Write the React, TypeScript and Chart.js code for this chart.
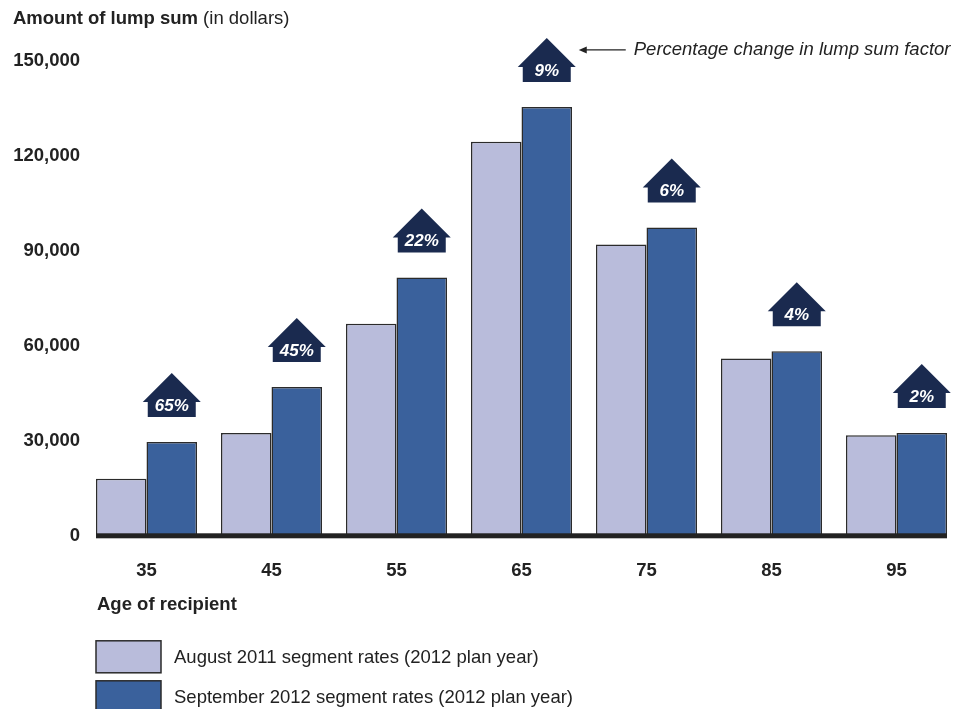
import React, { useEffect, useRef } from 'react';
import { Chart, registerables } from 'chart.js';

Chart.register(...registerables);

const ages = ['35', '45', '55', '65', '75', '85', '95'];
const aug2011 = [18000, 32500, 67000, 124500, 92000, 56000, 31800];
const sep2012 = [29600, 47000, 81600, 135500, 97400, 58300, 32500];
const pctChange = ['65%', '45%', '22%', '9%', '6%', '4%', '2%'];
const seriesNames = ['August 2011 segment rates (2012 plan year)', 'September 2012 segment rates (2012 plan year)'];
const yMax = 150000;
const yStep = 30000;

const FONT = '"Liberation Sans", Arial, sans-serif';
const AUG_COLOR = '#b9bcdb';
const SEP_COLOR = '#3a619c';
const BORDER = '#2b2b2b';
const NAVY = '#1a2a4f';

const overlay = {
  id: 'overlay',
  afterDraw(chart: any) {
    const ctx = chart.ctx;
    const y = chart.scales.y;
    const m0 = chart.getDatasetMeta(0);
    const m1 = chart.getDatasetMeta(1);
    const first = m0.data[0];
    const last = m1.data[m1.data.length - 1];
    const left = first.x - first.width / 2;
    const right = last.x + last.width / 2;
    const y0 = y.getPixelForValue(0);
    ctx.save();
    // title
    ctx.textBaseline = 'middle';
    ctx.textAlign = 'left';
    ctx.fillStyle = '#222';
    ctx.font = `bold 18.5px ${FONT}`;
    const t1 = 'Amount of lump sum';
    ctx.fillText(t1, 13, 19);
    const w1 = ctx.measureText(t1).width;
    ctx.font = `18.5px ${FONT}`;
    ctx.fillText(' (in dollars)', 13 + w1, 19);

    // zero line
    ctx.fillStyle = '#222';
    ctx.fillRect(left, y0 - 2.5, right - left, 5);

    // arrows
    m1.data.forEach((bar: any, i: number) => {
      const cx = bar.x;
      const yb = bar.y - 25;
      ctx.fillStyle = NAVY;
      ctx.beginPath();
      ctx.moveTo(cx - 24, yb);
      ctx.lineTo(cx - 24, yb - 15);
      ctx.lineTo(cx - 29, yb - 15);
      ctx.lineTo(cx, yb - 44);
      ctx.lineTo(cx + 29, yb - 15);
      ctx.lineTo(cx + 24, yb - 15);
      ctx.lineTo(cx + 24, yb);
      ctx.closePath();
      ctx.fill();
      ctx.fillStyle = '#fff';
      ctx.font = `italic bold 17px ${FONT}`;
      ctx.textAlign = 'center';
      ctx.fillText(pctChange[i], cx, yb - 11);
      if (i === 3) {
        const ay = yb - 32;
        const ax = cx + 32;
        ctx.strokeStyle = '#222';
        ctx.lineWidth = 1.2;
        ctx.beginPath();
        ctx.moveTo(ax + 4, ay);
        ctx.lineTo(ax + 47, ay);
        ctx.stroke();
        ctx.fillStyle = '#222';
        ctx.beginPath();
        ctx.moveTo(ax, ay);
        ctx.lineTo(ax + 8, ay - 3.5);
        ctx.lineTo(ax + 8, ay + 3.5);
        ctx.closePath();
        ctx.fill();
        ctx.textAlign = 'left';
        ctx.font = `italic 18.5px ${FONT}`;
        ctx.fillText('Percentage change in lump sum factor', ax + 55, ay);
      }
    });

    // x axis title
    ctx.textAlign = 'left';
    ctx.fillStyle = '#222';
    ctx.font = `bold 18.5px ${FONT}`;
    ctx.fillText('Age of recipient', left + 1, y0 + 69);

    // legend
    const colors = [AUG_COLOR, SEP_COLOR];
    seriesNames.forEach((name, i) => {
      const top = y0 + 105 + i * 40;
      ctx.fillStyle = colors[i];
      ctx.fillRect(left, top, 65, 32);
      ctx.strokeStyle = BORDER;
      ctx.lineWidth = 1.5;
      ctx.strokeRect(left, top, 65, 32);
      ctx.fillStyle = '#222';
      ctx.font = `18.5px ${FONT}`;
      ctx.fillText(name, left + 78, top + 17);
    });
    ctx.restore();
  },
};

export default function App() {
  const ref = useRef<HTMLCanvasElement>(null);
  useEffect(() => {
    if (!ref.current) return;
    const chart = new Chart(ref.current, {
      type: 'bar',
      data: {
        labels: ages,
        datasets: [
          { label: seriesNames[0], data: aug2011, backgroundColor: AUG_COLOR, borderColor: BORDER, borderWidth: 1.5 },
          { label: seriesNames[1], data: sep2012, backgroundColor: SEP_COLOR, borderColor: BORDER, borderWidth: 1.5 },
        ],
      },
      options: {
        responsive: false,
        animation: false,
        layout: { padding: { top: 61, right: 13, left: 0, bottom: 103 } },
        plugins: { legend: { display: false }, tooltip: { enabled: false }, title: { display: false } },
        datasets: { bar: { categoryPercentage: 0.808, barPercentage: 1 } },
        scales: {
          x: {
            grid: { display: false, drawTicks: false },
            border: { display: false },
            ticks: { padding: 24, color: '#222', font: { family: FONT, size: 18.5, weight: 'bold' } },
          },
          y: {
            min: 0,
            max: yMax,
            grid: { display: false, drawTicks: false },
            border: { display: false },
            afterFit: (s: any) => { s.width = 84; },
            ticks: {
              stepSize: yStep,
              padding: 4,
              color: '#222',
              font: { family: FONT, size: 18.5, weight: 'bold' },
              callback: (v: any) => Number(v).toLocaleString('en-US'),
            },
          },
        },
      },
      plugins: [overlay],
    });
    return () => chart.destroy();
  }, []);
  return (
    <div style={{ position: 'absolute', left: 0, top: 0, width: 972, height: 709, background: '#fff' }}>
      <canvas ref={ref} width={972} height={709} />
    </div>
  );
}
